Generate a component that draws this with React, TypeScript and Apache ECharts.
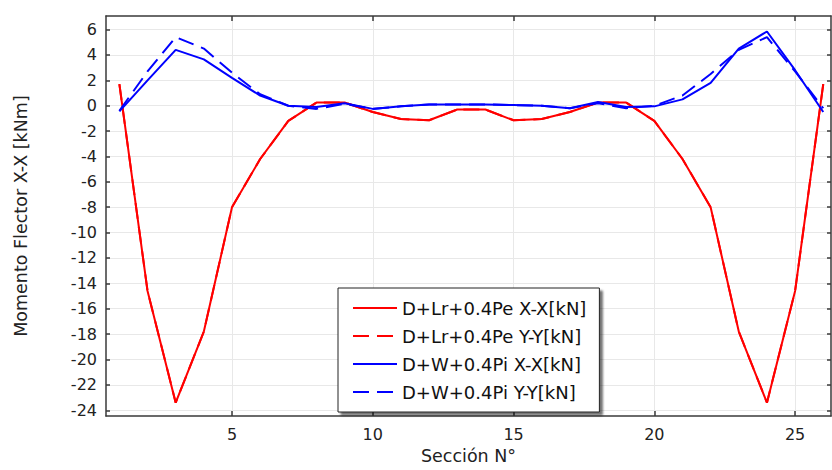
import React, { useEffect, useRef } from "react";
import * as echarts from "echarts";

const sections = [1, 2, 3, 4, 5, 6, 7, 8, 9, 10, 11, 12, 13, 14, 15, 16, 17, 18, 19, 20, 21, 22, 23, 24, 25, 26];

const lrPeXX = [1.7, -14.6, -23.4, -17.8, -8.0, -4.2, -1.2, 0.25, 0.25, -0.5, -1.05, -1.15, -0.3, -0.3, -1.15, -1.05, -0.5, 0.25, 0.25, -1.2, -4.2, -8.0, -17.8, -23.4, -14.6, 1.7];
const lrPeYY = [1.7, -14.6, -23.4, -17.8, -8.0, -4.2, -1.2, 0.25, 0.25, -0.5, -1.05, -1.15, -0.3, -0.3, -1.15, -1.05, -0.5, 0.25, 0.25, -1.2, -4.2, -8.0, -17.8, -23.4, -14.6, 1.7];
const wPiXX = [-0.45, 2.0, 4.4, 3.65, 2.2, 0.8, 0.0, -0.1, 0.2, -0.25, -0.05, 0.1, 0.1, 0.1, 0.05, 0.0, -0.2, 0.3, -0.1, -0.05, 0.5, 1.8, 4.5, 5.85, 2.8, -0.5];
const wPiYY = [-0.4, 2.7, 5.4, 4.5, 2.6, 0.9, 0.0, -0.25, 0.15, -0.25, -0.05, 0.1, 0.1, 0.1, 0.05, 0.0, -0.2, 0.2, -0.2, 0.0, 0.8, 2.5, 4.4, 5.4, 2.7, -0.2];

const seriesNames = [
  "D+Lr+0.4Pe X-X[kN]",
  "D+Lr+0.4Pe Y-Y[kN]",
  "D+W+0.4Pi X-X[kN]",
  "D+W+0.4Pi Y-Y[kN]",
];

const xTicks = [5, 10, 15, 20, 25];
const yTicks = [-24, -22, -20, -18, -16, -14, -12, -10, -8, -6, -4, -2, 0, 2, 4, 6];

const xTitle = "Sección N°";
const yTitle = "Momento Flector X-X [kNm]";

const FONT = "DejaVu Sans";
const AXIS_COLOR = "#3a3a3a";
const GRID_COLOR = "#e8e8e8";

const X_MIN = 0.525;
const X_MAX = 26.275;
const Y_MIN = -24.46;
const Y_MAX = 7.07;

function pairs(vals: number[]) {
  return sections.map((s, i) => [s, vals[i]]);
}

export default function App() {
  const ref = useRef<HTMLDivElement>(null);

  useEffect(() => {
    if (!ref.current) return;
    const chart = echarts.init(ref.current, null, { renderer: "svg" });

    const axisLine = { show: true, onZero: false, lineStyle: { color: AXIS_COLOR, width: 1.5 } };
    const tickStyle = { color: AXIS_COLOR, width: 1.5 };

    chart.setOption({
      animation: false,
      backgroundColor: "#ffffff",
      grid: { left: 106, right: 1, top: 16, bottom: 41, containLabel: false },
      xAxis: [
        {
          type: "value",
          min: X_MIN,
          max: X_MAX,
          position: "bottom",
          axisLine,
          axisTick: { show: true, inside: true, length: 5, customValues: xTicks, lineStyle: tickStyle },
          axisLabel: { customValues: xTicks, fontSize: 16, color: "#222", margin: 10, fontFamily: FONT },
          splitLine: { show: true, lineStyle: { color: GRID_COLOR, width: 1 } },
          name: xTitle,
          nameLocation: "middle",
          nameGap: 25,
          nameTextStyle: { fontSize: 17.5, color: "#222", fontFamily: FONT },
        },
        {
          type: "value",
          min: X_MIN,
          max: X_MAX,
          position: "top",
          axisLine,
          axisTick: { show: true, inside: true, length: 5, customValues: xTicks, lineStyle: tickStyle },
          axisLabel: { show: false },
          splitLine: { show: false },
        },
      ],
      yAxis: [
        {
          type: "value",
          min: Y_MIN,
          max: Y_MAX,
          position: "left",
          axisLine,
          axisTick: { show: true, inside: true, length: 4, customValues: yTicks, lineStyle: tickStyle },
          axisLabel: { customValues: yTicks, fontSize: 16, color: "#222", margin: 9, fontFamily: FONT },
          splitLine: { show: true, lineStyle: { color: GRID_COLOR, width: 1 } },
          name: yTitle,
          nameLocation: "middle",
          nameGap: 76,
          nameTextStyle: { fontSize: 17.5, color: "#222", fontFamily: FONT },
        },
        {
          type: "value",
          min: Y_MIN,
          max: Y_MAX,
          position: "right",
          axisLine,
          axisTick: { show: true, inside: true, length: 4, customValues: yTicks, lineStyle: tickStyle },
          axisLabel: { show: false },
          splitLine: { show: false },
        },
      ],
      legend: {
        orient: "vertical",
        left: 338,
        top: 288,
        padding: [11, 13, 11, 14],
        itemGap: 10,
        itemWidth: 44,
        itemHeight: 14,
        backgroundColor: "#ffffff",
        borderColor: "#222",
        borderWidth: 1,
        borderRadius: 0,
        shadowColor: "rgba(0,0,0,0.55)",
        shadowBlur: 2,
        shadowOffsetX: 3,
        shadowOffsetY: 3,
        itemStyle: { opacity: 0 },
        textStyle: { fontSize: 18, color: "#111", fontFamily: FONT },
        data: seriesNames,
      },
      series: [
        {
          name: seriesNames[1],
          type: "line",
          data: pairs(lrPeYY),
          symbol: "none",
          color: "#ff0000",
          lineStyle: { color: "#ff0000", width: 2, type: [16, 8] },
          z: 2,
        },
        {
          name: seriesNames[0],
          type: "line",
          data: pairs(lrPeXX),
          symbol: "none",
          color: "#ff0000",
          lineStyle: { color: "#ff0000", width: 2, type: "solid" },
          z: 3,
        },
        {
          name: seriesNames[2],
          type: "line",
          data: pairs(wPiXX),
          symbol: "none",
          color: "#0000ff",
          lineStyle: { color: "#0000ff", width: 2, type: "solid" },
          z: 4,
        },
        {
          name: seriesNames[3],
          type: "line",
          data: pairs(wPiYY),
          symbol: "none",
          color: "#0000ff",
          lineStyle: { color: "#0000ff", width: 2, type: [16, 8] },
          z: 5,
        },
      ],
    });

    return () => chart.dispose();
  }, []);

  return (
    <div
      ref={ref}
      style={{ position: "fixed", left: 0, top: 0, width: 832, height: 470, background: "#ffffff" }}
    />
  );
}
